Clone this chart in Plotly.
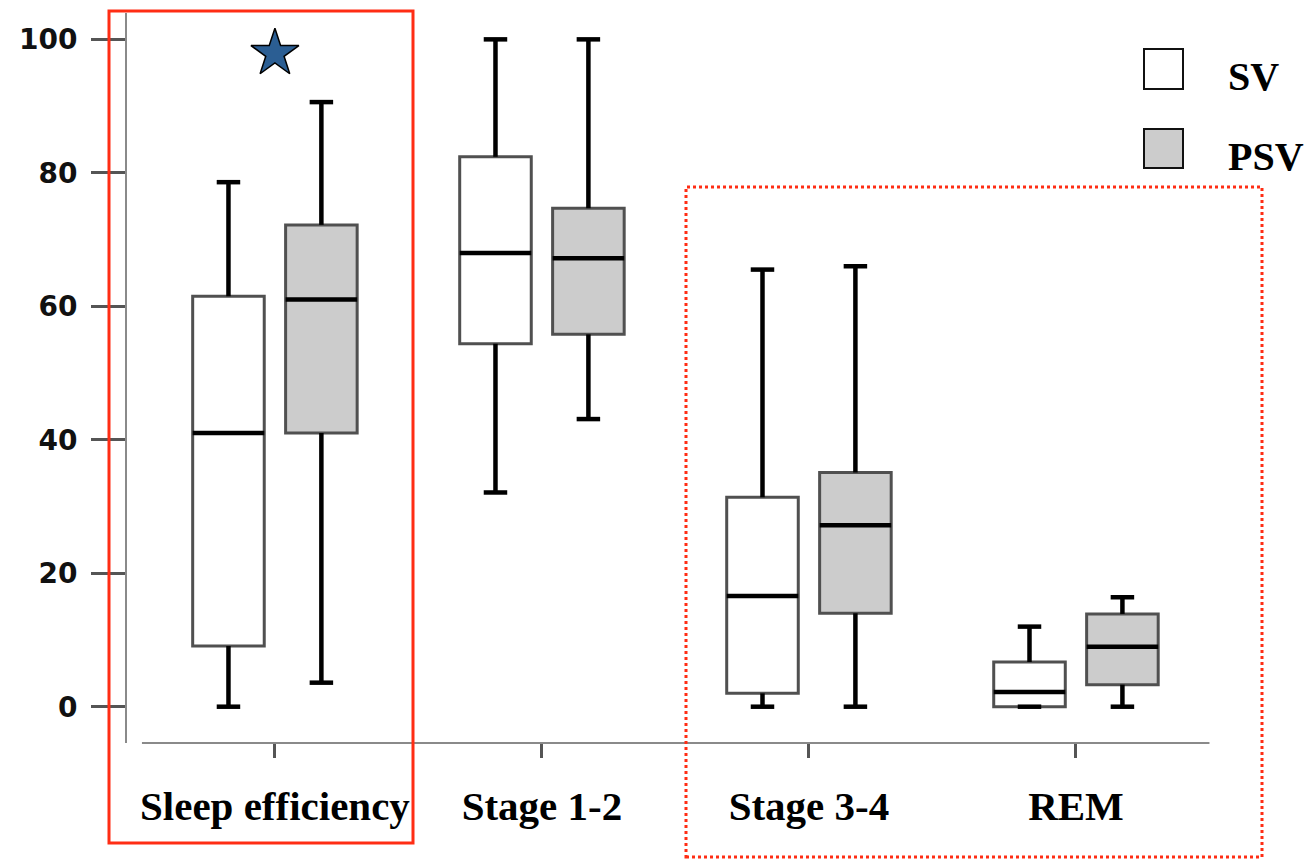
import plotly.graph_objects as go

# ---------------- data ----------------
categories = ["Sleep efficiency", "Stage 1-2", "Stage 3-4", "REM"]
groups = ["SV", "PSV"]

sv_min = [0.0, 32.1, 0.0, 0.0]
sv_q1 = [9.1, 54.4, 2.0, 0.0]
sv_median = [41.0, 68.0, 16.6, 2.2]
sv_q3 = [61.5, 82.4, 31.4, 6.7]
sv_max = [78.6, 100.0, 65.5, 12.0]

psv_min = [3.6, 43.1, 0.0, 0.0]
psv_q1 = [41.0, 55.8, 14.0, 3.3]
psv_median = [61.0, 67.2, 27.2, 9.0]
psv_q3 = [72.2, 74.7, 35.1, 13.9]
psv_max = [90.6, 100.0, 66.0, 16.4]

star_category = "Sleep efficiency"
star_value = 97.9

y_ticks = [0, 20, 40, 60, 80, 100]

# ---------------- style ----------------
OFFSET = 0.174
BOX_W = 0.268
CAP_W = 0.088
OUTLINE = "#505050"
BLACK = "#000000"
fills = {"SV": "#ffffff", "PSV": "#cccccc"}

series = {
    "SV": (sv_min, sv_q1, sv_median, sv_q3, sv_max, -OFFSET),
    "PSV": (psv_min, psv_q1, psv_median, psv_q3, psv_max, OFFSET),
}

fig = go.Figure()
cat_idx = list(range(len(categories)))

# boxes (outline in dark grey)
for g in groups:
    mn, q1, md, q3, mx, off = series[g]
    xs = [i + off for i in cat_idx]
    fig.add_trace(go.Box(
        x=xs, q1=q1, median=md, q3=q3, lowerfence=mn, upperfence=mx,
        width=BOX_W, whiskerwidth=0, fillcolor=fills[g],
        line=dict(color=OUTLINE, width=3), name=g, showlegend=False,
        hoverinfo="skip",
    ))

# black whiskers, caps and medians
for g in groups:
    mn, q1, md, q3, mx, off = series[g]
    wx, wy = [], []
    mxs, mys = [], []
    for i in cat_idx:
        c = i + off
        wx += [c, c, None, c - CAP_W / 2, c + CAP_W / 2, None]
        wy += [q1[i], mn[i], None, mn[i], mn[i], None]
        wx += [c, c, None, c - CAP_W / 2, c + CAP_W / 2, None]
        wy += [q3[i], mx[i], None, mx[i], mx[i], None]
        mxs += [c - BOX_W / 2, c + BOX_W / 2, None]
        mys += [md[i], md[i], None]
    fig.add_trace(go.Scatter(x=wx, y=wy, mode="lines",
                             line=dict(color=BLACK, width=4.5),
                             showlegend=False, hoverinfo="skip"))
    fig.add_trace(go.Scatter(x=mxs, y=mys, mode="lines",
                             line=dict(color=BLACK, width=4.5),
                             showlegend=False, hoverinfo="skip"))

# significance star
fig.add_trace(go.Scatter(
    x=[categories.index(star_category)], y=[star_value], mode="markers",
    marker=dict(symbol="star", size=36, color="#2b5e93",
                line=dict(color="#000000", width=1.5)),
    showlegend=False, hoverinfo="skip",
))

# ---------------- layout ----------------
L, R, T, B = 127, 1210, 13, 743
W, H = 1311, 859
pw, ph = R - L, B - T


def px(xp):
    return (xp - L) / pw


def py(yp):
    return (B - yp) / ph


shapes = []
shapes.append(dict(type="line", xref="x", yref="paper", x0=-0.498, x1=3.5,
                   y0=0, y1=0, line=dict(color="#8a8a8a", width=2)))
shapes.append(dict(type="rect", xref="paper", yref="paper",
                   x0=px(1144), x1=px(1183), y0=py(89), y1=py(49),
                   fillcolor=fills["SV"], line=dict(color="#111111", width=2)))
shapes.append(dict(type="rect", xref="paper", yref="paper",
                   x0=px(1144), x1=px(1183), y0=py(168), y1=py(129),
                   fillcolor=fills["PSV"], line=dict(color="#111111", width=2)))
shapes.append(dict(type="rect", xref="paper", yref="paper",
                   x0=px(109), x1=px(413), y0=py(843), y1=py(11),
                   line=dict(color="#ff2d14", width=3)))
shapes.append(dict(type="rect", xref="paper", yref="paper",
                   x0=px(686), x1=px(1262), y0=py(857), y1=py(187),
                   line=dict(color="#ff2d14", width=3, dash="dot")))

annotations = [
    dict(text="<b>SV</b>", xref="paper", yref="paper", x=px(1226), y=py(77),
         xanchor="left", yanchor="middle", showarrow=False,
         font=dict(family="Liberation Serif", size=40, color="#000")),
    dict(text="<b>PSV</b>", xref="paper", yref="paper", x=px(1226), y=py(156),
         xanchor="left", yanchor="middle", showarrow=False,
         font=dict(family="Liberation Serif", size=40, color="#000")),
]

fig.update_layout(
    width=W, height=H,
    margin=dict(l=L, r=W - R, t=T, b=H - B, autoexpand=False),
    paper_bgcolor="#ffffff", plot_bgcolor="#ffffff",
    shapes=shapes, annotations=annotations, showlegend=False,
    xaxis=dict(
        range=[-0.554, 3.502], tickmode="array", tickvals=cat_idx,
        ticktext=[f"<b>{c}</b>" for c in categories],
        ticks="outside", ticklen=14, tickwidth=3, tickcolor="#555555",
        showline=False, showgrid=False, zeroline=False,
        tickfont=dict(family="Liberation Serif", size=41, color="#000"),
        ticklabelstandoff=13,
    ),
    yaxis=dict(
        range=[-5.44, 103.95], tickmode="array", tickvals=y_ticks,
        ticktext=[str(v) for v in y_ticks],
        ticks="outside", ticklen=34, tickwidth=2.5, tickcolor="#555555",
        showline=True, linecolor="#8a8a8a", linewidth=2,
        showgrid=False, zeroline=False,
        tickfont=dict(family="DejaVu Sans", size=28, color="#111", weight=700),
        ticklabelstandoff=8,
    ),
)

fig.write_html(
    "out.html",
    config={"displayModeBar": False},
    post_script="document.body.style.margin='0';document.body.style.padding='0';"
                "document.documentElement.style.overflow='hidden';",
)
